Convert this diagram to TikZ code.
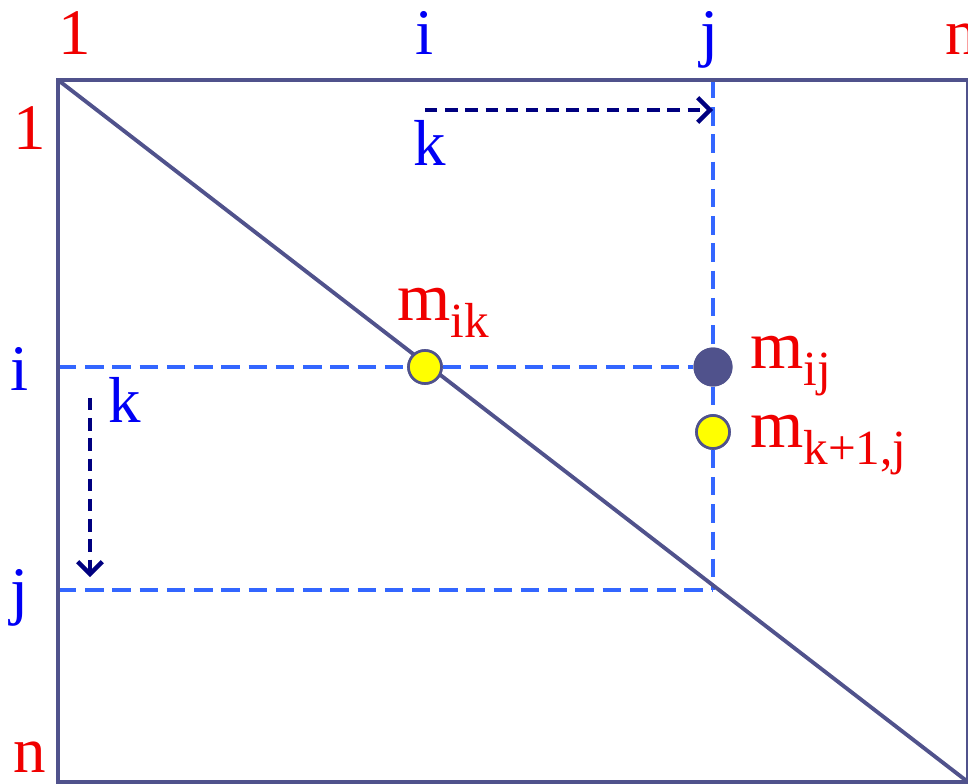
\documentclass[tikz,border=0pt]{standalone}
\usepackage{fontspec}
\setmainfont{Liberation Serif}
\usepackage{tikz}
\usetikzlibrary{calc,arrows.meta}
\definecolor{framenavy}{RGB}{80, 82, 140}
\definecolor{dashblue}{RGB}{51, 102, 255}
\definecolor{arrownavy}{RGB}{0, 0, 128}
\definecolor{labelred}{RGB}{240, 0, 0}
\definecolor{labelblue}{RGB}{0, 0, 245}
\definecolor{dotyellow}{RGB}{255, 255, 0}

\newcommand{\bigfont}{\fontsize{37}{40}\selectfont}
\newcommand{\subfont}{\fontsize{28}{30}\selectfont}
\newcommand{\mentry}[1]{{\fontsize{39}{42}\selectfont m}\raisebox{-10pt}{\subfont #1}}

\begin{document}
\begin{tikzpicture}[
    x=0.02cm, y=-0.02cm,
    frame/.style={draw=framenavy, line width=2.2pt},
    guide/.style={draw=dashblue, line width=2pt, dash pattern=on 10.5pt off 5pt},
    walk/.style={draw=arrownavy, line width=2.5pt, dash pattern=on 7pt off 4.5pt,
      -{Straight Barb[length=7pt, width=14pt, line width=2.5pt]}},
    redlbl/.style={text=labelred, font=\bigfont, inner sep=0pt, anchor=base},
    bluelbl/.style={text=labelblue, font=\bigfont, inner sep=0pt, anchor=base},
    entrylbl/.style={text=labelred, font=\bigfont, inner sep=0pt, anchor=base west},
    yellowdot/.style={circle, draw=framenavy, line width=1.5pt, fill=dotyellow,
      inner sep=0pt, minimum size=0.66cm},
    navydot/.style={circle, fill=framenavy, inner sep=0pt, minimum size=0.78cm}
  ]
  \useasboundingbox (0,0) rectangle (968,784);

  % corners of the matrix
  \coordinate (tl) at (58,80);
  \coordinate (br) at (968,782);
  \coordinate (jtop) at (713,80);
  \coordinate (ileft) at (58,367);
  \coordinate (jleft) at (58,590);
  \coordinate (jdiag) at (713,590);

  % row and column indices
  \node[redlbl] (top1) at (75,55) {1};
  \node[bluelbl] (topi) at (425,55) {i};
  \node[bluelbl] (topj) at (710,55) {j};
  \node[redlbl] (topn) at (962,55) {n};
  \node[redlbl] (left1) at (30,150) {1};
  \node[bluelbl] (lefti) at (20,390) {i};
  \node[bluelbl] (leftj) at (20,612) {j};
  \node[redlbl] (leftn) at (30,772) {n};

  % entries
  \node[yellowdot] (mik) at (425,367) {};
  \node[navydot] (mij) at (713,367) {};
  \node[yellowdot] (mkj) at (713,432) {};

  % dashed guides
  \draw[guide] (ileft) -- (mik) -- (mij);
  \draw[guide] (jtop) -- (mij) -- (mkj) -- (jdiag);
  \draw[guide] (jleft) -- (jdiag);

  % matrix outline and diagonal
  \draw[frame] (tl) rectangle (br);
  \draw[frame] (tl) -- (br);

  % direction of k
  \coordinate (kstart) at (425,110);
  \coordinate (kend) at (713,110);
  \draw[walk] (kstart) -- (kend);
  \node[bluelbl] (ktop) at (430,166) {k};
  \coordinate (kdown) at (90,398);
  \coordinate (kbottom) at (90,577);
  \draw[walk] (kdown) -- (kbottom);
  \node[bluelbl] (kleft) at (125,422) {k};

  % dots drawn over the lines
  \node[yellowdot] at (mik) {};
  \node[navydot] at (mij) {};
  \node[yellowdot] at (mkj) {};
  \node[entrylbl] (mikl) at (397,320) {\mentry{ik}};
  \node[entrylbl] (mijl) at (750,368) {\mentry{ij}};
  \node[entrylbl] (mkjl) at (750,447) {\mentry{k+1,j}};
\end{tikzpicture}
\end{document}
